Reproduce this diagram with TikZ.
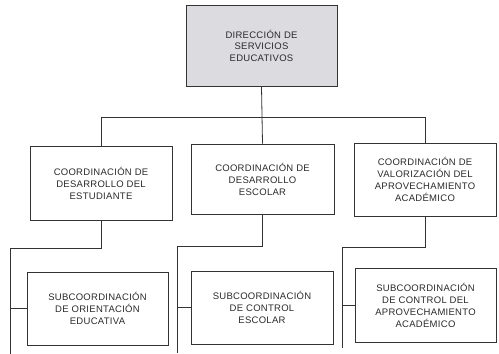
\documentclass[tikz,border=0pt]{standalone}
\usepackage{fontspec}
\setmainfont{Liberation Sans}
\newfontfamily\boxfnt[LetterSpace=3]{Liberation Sans}
\definecolor{linec}{HTML}{333333}
\definecolor{textc}{HTML}{2A2A2A}
\definecolor{topfill}{HTML}{DCDCE0}
\tikzset{
  orgbox/.style={draw=linec, line width=0.9pt, align=center, inner sep=0pt,
    font=\boxfnt\fontsize{9.5}{12}\selectfont, text=textc},
  conn/.style={draw=linec, line width=0.8pt}
}
\begin{document}
\begin{tikzpicture}[x=1pt,y=-1pt]
\useasboundingbox (0,0) rectangle (499,354);
\node[orgbox, fill=topfill, minimum width=151pt, minimum height=81pt,
  font=\boxfnt\fontsize{9.5}{11.5}\selectfont] (top) at (261.5,45.5)
  {DIRECCIÓN DE\\SERVICIOS\\EDUCATIVOS};
\node[orgbox, minimum width=142pt, minimum height=74pt] (L1) at (101,183)
  {COORDINACIÓN DE\\DESARROLLO DEL\\ESTUDIANTE};
\node[orgbox, minimum width=143pt, minimum height=70pt] (M1) at (262.5,179)
  {COORDINACIÓN DE\\DESARROLLO\\ESCOLAR};
\node[orgbox, minimum width=142pt, minimum height=73pt] (R1) at (425,179.5)
  {COORDINACIÓN DE\\VALORIZACIÓN DEL\\APROVECHAMIENTO\\ACADÉMICO};
\node[orgbox, minimum width=141pt, minimum height=73pt] (L2) at (97.5,308.5)
  {SUBCOORDINACIÓN\\DE ORIENTACIÓN\\EDUCATIVA};
\node[orgbox, minimum width=142pt, minimum height=73pt] (M2) at (262,307.5)
  {SUBCOORDINACIÓN\\DE CONTROL\\ESCOLAR};
\node[orgbox, minimum width=141pt, minimum height=74pt] (R2) at (425.5,305)
  {SUBCOORDINACIÓN\\DE CONTROL DEL\\APROVECHAMIENTO\\ACADÉMICO};
% level 1
\coordinate (bus) at (262,117);
\draw[conn] (top.south) -- (M1.north);
\draw[conn] (L1.north) -- (L1.north |- bus) -- (R1.north |- bus) -- (R1.north);
% level 2 left
\coordinate (lt) at (10,248);
\coordinate (lb) at (10,354);
\draw[conn] (L1.south) -- (L1.south |- lt) -- (lt) -- (lb);
\draw[conn] (lt |- L2.west) -- (L2.west);
% level 2 middle
\coordinate (mt) at (177,246);
\coordinate (mb) at (177,353);
\draw[conn] (M1.south) -- (M1.south |- mt) -- (mt) -- (mb);
\draw[conn] (mt |- M2.west) -- (M2.west);
% level 2 right
\coordinate (rt) at (342,247);
\coordinate (rb) at (342,348);
\draw[conn] (R1.south) -- (R1.south |- rt) -- (rt) -- (rb);
\draw[conn] (rt |- R2.west) -- (R2.west);
\end{tikzpicture}
\end{document}
